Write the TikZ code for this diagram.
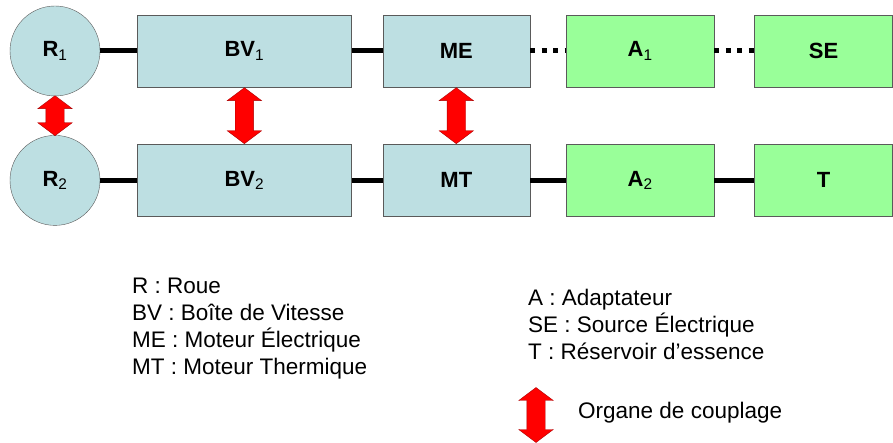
\documentclass[tikz,border=0pt]{standalone}
\usepackage{fontspec}
\setmainfont{Liberation Sans}
\usepackage{xcolor}
\usetikzlibrary{positioning,shapes.arrows,calc}

\definecolor{boxblue}{RGB}{189,223,226}
\definecolor{boxgreen}{RGB}{153,255,153}
\definecolor{boxline}{RGB}{90,90,90}
\definecolor{arrowline}{RGB}{170,0,0}

\newcommand{\sublbl}[2]{#1\textsubscript{\mdseries #2}}

\begin{document}
\begin{tikzpicture}[
node distance=36pt,
every node/.style={font=\fontsize{22}{26}\selectfont},
wheel/.style={circle, draw=boxline, fill=boxblue, minimum size=90pt, inner sep=0pt, font=\fontsize{22}{26}\selectfont\bfseries},
bluebox/.style={draw=boxline, fill=boxblue, minimum height=72pt, inner sep=0pt, font=\fontsize{22}{26}\selectfont\bfseries},
greenbox/.style={bluebox, fill=boxgreen},
link/.style={line width=5pt},
dotlink/.style={line width=5pt, dash pattern=on 5pt off 6.5pt},
coupling/.style={double arrow, rotate=90, draw=arrowline, fill=red, inner xsep=0pt, inner ysep=9pt,
    minimum height=#1, minimum width=34pt, double arrow head extend=8pt,
    double arrow tip angle=106},
legend/.style={align=left, inner sep=0pt, font=\fontsize{22.5}{27}\selectfont}
]
\useasboundingbox (0,0) rectangle (893pt,-443pt);

% top row
\node[wheel] (R1) at (55pt,-51pt) {\sublbl{R}{1}};
\node[bluebox, minimum width=214pt, right=37pt of R1] (BV1) {\sublbl{BV}{1}};
\node[bluebox, minimum width=147pt, right=31pt of BV1] (ME) {ME};
\node[greenbox, minimum width=148pt, right=36pt of ME] (A1) {\sublbl{A}{1}};
\node[greenbox, minimum width=138pt, right=40pt of A1] (SE) {SE};

% bottom row
\node[wheel, below=39pt of R1] (R2) {\sublbl{R}{2}};
\node[bluebox, minimum width=214pt, below=57pt of BV1] (BV2) {\sublbl{BV}{2}};
\node[bluebox, minimum width=147pt, below=57pt of ME] (MT) {MT};
\node[greenbox, minimum width=148pt, below=57pt of A1] (A2) {\sublbl{A}{2}};
\node[greenbox, minimum width=138pt, below=57pt of SE] (T) {T};

\draw[link] (R1) -- (BV1);
\draw[link] (BV1) -- (ME);
\draw[dotlink] (ME) -- (A1);
\draw[dotlink] (A1) -- (SE);
\draw[link] (R2) -- (BV2);
\draw[link] (BV2) -- (MT);
\draw[link] (MT) -- (A2);
\draw[link] (A2) -- (T);

% coupling organs
\node[coupling=40pt] (c1) at ($(R1.south)!0.5!(R2.north)$) {};
\node[coupling=56pt] (c2) at ($(BV1.south)!0.5!(BV2.north)$) {};
\node[coupling=56pt] (c3) at ($(ME.south)!0.5!(MT.north)$) {};

% legend
\node[legend, anchor=north west] (leg1) at (132pt,-278pt) {R : Roue\\BV : Boîte de Vitesse\\ME : Moteur Électrique\\MT : Moteur Thermique};
\node[legend, anchor=north west] (leg2) at (528pt,-289pt) {A : Adaptateur\\SE : Source Électrique\\T : Réservoir d’essence};
\node[coupling=55pt] (c4) at (536pt,-415pt) {};
\node[legend, anchor=base west] (leg3) at (578pt,-418pt) {Organe de couplage};

\end{tikzpicture}
\end{document}
